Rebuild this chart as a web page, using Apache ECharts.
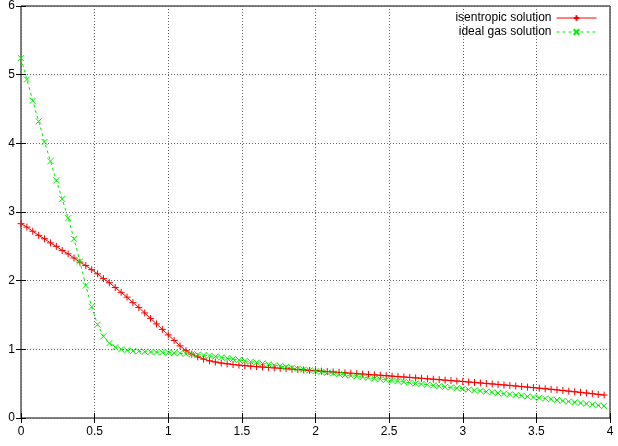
<!DOCTYPE html>
<html>
<head>
<meta charset="utf-8">
<script src="https://cdn.jsdelivr.net/npm/echarts@6/dist/echarts.min.js"></script>
<style>
  html, body { margin: 0; padding: 0; background: #fff; }
  #chart { width: 618px; height: 446px; }
</style>
</head>
<body>
<div id="chart"></div>
<script>
// sample positions along x
var xs = [
  0.00, 0.04, 0.08, 0.12, 0.16, 0.20, 0.24, 0.28, 0.32, 0.36,
  0.40, 0.44, 0.48, 0.52, 0.56, 0.60, 0.64, 0.68, 0.72, 0.76,
  0.80, 0.84, 0.88, 0.92, 0.96, 1.00, 1.04, 1.08, 1.12, 1.16,
  1.20, 1.24, 1.28, 1.32, 1.36, 1.40, 1.44, 1.48, 1.52, 1.56,
  1.60, 1.64, 1.68, 1.72, 1.76, 1.80, 1.84, 1.88, 1.92, 1.96,
  2.00, 2.04, 2.08, 2.12, 2.16, 2.20, 2.24, 2.28, 2.32, 2.36,
  2.40, 2.44, 2.48, 2.52, 2.56, 2.60, 2.64, 2.68, 2.72, 2.76,
  2.80, 2.84, 2.88, 2.92, 2.96, 3.00, 3.04, 3.08, 3.12, 3.16,
  3.20, 3.24, 3.28, 3.32, 3.36, 3.40, 3.44, 3.48, 3.52, 3.56,
  3.60, 3.64, 3.68, 3.72, 3.76, 3.80, 3.84, 3.88, 3.92, 3.96
];

var isentropic = [
  2.83, 2.78, 2.72, 2.66, 2.61, 2.55, 2.50, 2.44, 2.39, 2.33,
  2.27, 2.22, 2.16, 2.10, 2.03, 1.97, 1.90, 1.83, 1.76, 1.68,
  1.61, 1.53, 1.45, 1.37, 1.29, 1.21, 1.13, 1.05, 0.98, 0.93,
  0.89, 0.858, 0.833, 0.815, 0.800, 0.789, 0.779, 0.770, 0.762, 0.755,
  0.748, 0.742, 0.736, 0.730, 0.724, 0.718, 0.712, 0.706, 0.700, 0.694,
  0.688, 0.682, 0.676, 0.670, 0.664, 0.658, 0.652, 0.646, 0.640, 0.634,
  0.628, 0.622, 0.616, 0.610, 0.603, 0.597, 0.591, 0.584, 0.578, 0.571,
  0.565, 0.558, 0.551, 0.545, 0.538, 0.531, 0.524, 0.517, 0.510, 0.503,
  0.496, 0.489, 0.481, 0.474, 0.466, 0.458, 0.450, 0.442, 0.434, 0.426,
  0.418, 0.409, 0.400, 0.391, 0.382, 0.373, 0.364, 0.354, 0.344, 0.334
];

var idealGas = [
  5.24, 4.93, 4.62, 4.32, 4.02, 3.74, 3.46, 3.19, 2.91, 2.61,
  2.28, 1.93, 1.62, 1.36, 1.19, 1.09, 1.03, 1.00, 0.985, 0.975,
  0.970, 0.965, 0.962, 0.960, 0.957, 0.953, 0.948, 0.942, 0.936, 0.930,
  0.922, 0.915, 0.905, 0.894, 0.882, 0.870, 0.858, 0.846, 0.833, 0.820,
  0.807, 0.794, 0.781, 0.768, 0.756, 0.743, 0.731, 0.718, 0.706, 0.694,
  0.682, 0.671, 0.660, 0.649, 0.638, 0.627, 0.617, 0.606, 0.596, 0.585,
  0.575, 0.564, 0.554, 0.544, 0.534, 0.524, 0.514, 0.504, 0.494, 0.484,
  0.474, 0.464, 0.454, 0.444, 0.434, 0.424, 0.414, 0.404, 0.394, 0.384,
  0.374, 0.364, 0.354, 0.344, 0.334, 0.324, 0.314, 0.304, 0.294, 0.284,
  0.273, 0.262, 0.251, 0.240, 0.229, 0.218, 0.207, 0.196, 0.185, 0.174
];

var seriesNames = ["isentropic solution", "ideal gas solution"];

var chart = echarts.init(document.getElementById("chart"), null, { renderer: "canvas" });

var fontFamily = "Liberation Sans, Arial, sans-serif";
var gridLine = { show: true, lineStyle: { color: "#666", type: [1, 2], width: 1 } };
var tickStyle = { show: true, inside: true, length: 5, lineStyle: { color: "#000" } };
var labelStyle = { color: "#000", fontSize: 12, fontFamily: fontFamily };

function pairs(ys) {
  return xs.map(function (x, i) { return [x, ys[i]]; });
}

var option = {
  animation: false,
  backgroundColor: "#fff",
  grid: {
    left: 21, right: 8, top: 6, bottom: 28,
    show: true, borderColor: "#000", borderWidth: 1, backgroundColor: "transparent"
  },
  legend: {
    data: seriesNames,
    orient: "vertical",
    right: 16, top: 7,
    align: "right",
    itemWidth: 40, itemHeight: 7, itemGap: 2,
    lineStyle: { width: 1 },
    textStyle: { color: "#000", fontSize: 12, fontFamily: fontFamily }
  },
  xAxis: [
    {
      type: "value", min: 0, max: 4, interval: 0.5,
      axisLine: { show: false },
      axisTick: tickStyle,
      axisLabel: Object.assign({ margin: 8 }, labelStyle),
      splitLine: gridLine
    },
    {
      type: "value", min: 0, max: 4, interval: 0.5, position: "top",
      axisLine: { show: false }, axisTick: tickStyle,
      axisLabel: { show: false }, splitLine: { show: false }
    }
  ],
  yAxis: [
    {
      type: "value", min: 0, max: 6, interval: 1,
      axisLine: { show: false },
      axisTick: tickStyle,
      axisLabel: Object.assign({ margin: 6 }, labelStyle),
      splitLine: gridLine
    },
    {
      type: "value", min: 0, max: 6, interval: 1, position: "right",
      axisLine: { show: false }, axisTick: tickStyle,
      axisLabel: { show: false }, splitLine: { show: false }
    }
  ],
  series: [
    {
      name: seriesNames[0],
      type: "line",
      data: pairs(isentropic),
      symbol: "path://M5,0L5,10M0,5L10,5",
      symbolSize: 7,
      showAllSymbol: true,
      lineStyle: { color: "#ff0000", width: 1 },
      itemStyle: { color: "#ff0000", borderColor: "#ff0000", borderWidth: 1 },
      emphasis: { disabled: true }
    },
    {
      name: seriesNames[1],
      type: "line",
      data: pairs(idealGas),
      symbol: "path://M0,0L10,10M10,0L0,10",
      symbolSize: 6,
      showAllSymbol: true,
      lineStyle: { color: "#00ee00", width: 1, type: [3, 3] },
      itemStyle: { color: "#00ee00", borderColor: "#00ee00", borderWidth: 1 },
      emphasis: { disabled: true }
    }
  ]
};

chart.setOption(option);
</script>
</body>
</html>
